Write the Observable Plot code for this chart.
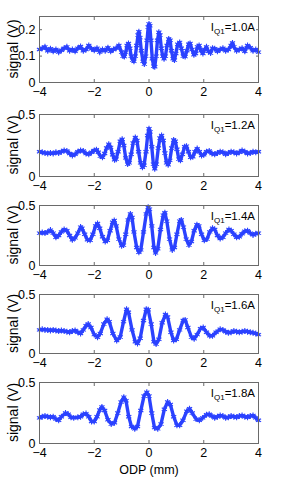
<!DOCTYPE html>
<html>
<head>
<meta charset="utf-8">
<script src="https://cdn.jsdelivr.net/npm/d3@7"></script>
<script src="https://cdn.jsdelivr.net/npm/@observablehq/plot@0.6"></script>
<style>
  html, body { margin: 0; padding: 0; background: #fff; }
  #wrap { position: relative; width: 284px; height: 481px; overflow: hidden; font-family: "Liberation Sans", Arial, sans-serif; }
  #wrap svg { position: absolute; left: 0; background: transparent; }
</style>
</head>
<body>
<div id="wrap"></div>
<script>
// ---- data (ODP in mm, signal in V) ----
const currents = ["1.0", "1.2", "1.4", "1.6", "1.8"];
const xTicks = [-4, -2, 0, 2, 4];
const yTicksSmall = [0, 0.1, 0.2];
const yTicksLarge = [0, 0.5];

const scan10 = [[-4.0,0.125],[-3.9,0.13],[-3.8,0.135],[-3.7,0.12],[-3.6,0.128],[-3.5,0.118],[-3.4,0.125],[-3.3,0.115],[-3.2,0.122],[-3.1,0.13],[-3.0,0.135],[-2.9,0.12],[-2.8,0.125],[-2.7,0.118],[-2.6,0.13],[-2.5,0.136],[-2.4,0.12],[-2.3,0.125],[-2.2,0.14],[-2.1,0.128],[-2.0,0.122],[-1.9,0.13],[-1.8,0.115],[-1.7,0.125],[-1.6,0.12],[-1.5,0.132],[-1.4,0.118],[-1.3,0.125],[-1.2,0.13],[-1.1,0.14],[-1.0,0.115],[-0.95,0.1],[-0.9,0.098],[-0.85,0.115],[-0.8,0.14],[-0.75,0.148],[-0.7,0.13],[-0.65,0.1],[-0.6,0.085],[-0.55,0.08],[-0.5,0.1],[-0.45,0.14],[-0.4,0.18],[-0.37,0.192],[-0.33,0.17],[-0.28,0.12],[-0.22,0.08],[-0.17,0.07],[-0.12,0.1],[-0.07,0.16],[-0.03,0.21],[0,0.222],[0.03,0.215],[0.07,0.16],[0.12,0.09],[0.17,0.062],[0.21,0.06],[0.26,0.1],[0.31,0.16],[0.36,0.19],[0.4,0.18],[0.45,0.13],[0.5,0.1],[0.55,0.09],[0.6,0.1],[0.66,0.14],[0.72,0.165],[0.77,0.16],[0.82,0.12],[0.88,0.09],[0.93,0.085],[0.98,0.11],[1.05,0.145],[1.12,0.152],[1.18,0.13],[1.25,0.1],[1.32,0.098],[1.38,0.12],[1.45,0.145],[1.5,0.148],[1.57,0.125],[1.64,0.105],[1.7,0.11],[1.77,0.135],[1.83,0.14],[1.9,0.12],[1.97,0.11],[2.03,0.125],[2.1,0.135],[2.17,0.118],[2.25,0.112],[2.32,0.13],[2.4,0.128],[2.5,0.118],[2.6,0.125],[2.7,0.13],[2.8,0.12],[2.9,0.125],[3.0,0.14],[3.05,0.15],[3.1,0.135],[3.2,0.12],[3.3,0.125],[3.4,0.13],[3.5,0.118],[3.6,0.14],[3.7,0.132],[3.8,0.12],[3.9,0.125],[4.0,0.115]];

const scan12 = [[-4.0,0.2],[-3.9,0.195],[-3.8,0.19],[-3.7,0.185],[-3.6,0.19],[-3.5,0.185],[-3.4,0.195],[-3.3,0.19],[-3.2,0.2],[-3.1,0.21],[-3.0,0.205],[-2.9,0.185],[-2.8,0.17],[-2.7,0.18],[-2.6,0.2],[-2.5,0.21],[-2.4,0.205],[-2.3,0.185],[-2.2,0.18],[-2.1,0.195],[-2.0,0.21],[-1.92,0.215],[-1.85,0.195],[-1.78,0.165],[-1.7,0.155],[-1.62,0.185],[-1.55,0.23],[-1.47,0.26],[-1.4,0.235],[-1.33,0.175],[-1.26,0.135],[-1.2,0.14],[-1.13,0.2],[-1.05,0.285],[-0.98,0.3],[-0.92,0.25],[-0.85,0.15],[-0.78,0.1],[-0.72,0.11],[-0.65,0.18],[-0.58,0.27],[-0.5,0.315],[-0.44,0.29],[-0.38,0.2],[-0.31,0.11],[-0.24,0.075],[-0.18,0.09],[-0.11,0.2],[-0.05,0.33],[0,0.385],[0.04,0.36],[0.1,0.24],[0.16,0.1],[0.21,0.062],[0.27,0.1],[0.34,0.23],[0.4,0.31],[0.46,0.33],[0.52,0.29],[0.58,0.19],[0.64,0.11],[0.7,0.095],[0.76,0.13],[0.83,0.23],[0.9,0.295],[0.96,0.285],[1.02,0.22],[1.09,0.14],[1.15,0.13],[1.22,0.18],[1.3,0.24],[1.37,0.245],[1.44,0.2],[1.52,0.155],[1.6,0.16],[1.68,0.2],[1.76,0.225],[1.84,0.2],[1.92,0.17],[2.0,0.175],[2.1,0.2],[2.2,0.205],[2.3,0.185],[2.4,0.18],[2.5,0.19],[2.6,0.2],[2.7,0.195],[2.8,0.18],[2.9,0.19],[3.0,0.2],[3.1,0.195],[3.2,0.185],[3.3,0.195],[3.4,0.21],[3.5,0.2],[3.6,0.185],[3.7,0.19],[3.8,0.2],[3.9,0.195],[4.0,0.2]];

const scan14 = [[-4.0,0.27],[-3.9,0.275],[-3.8,0.27],[-3.7,0.28],[-3.6,0.295],[-3.5,0.27],[-3.4,0.235],[-3.3,0.25],[-3.2,0.28],[-3.1,0.3],[-3.0,0.29],[-2.9,0.25],[-2.8,0.215],[-2.7,0.23],[-2.6,0.27],[-2.5,0.32],[-2.45,0.31],[-2.35,0.26],[-2.25,0.215],[-2.15,0.21],[-2.05,0.26],[-1.95,0.33],[-1.88,0.35],[-1.8,0.31],[-1.7,0.24],[-1.6,0.2],[-1.52,0.21],[-1.42,0.29],[-1.33,0.36],[-1.27,0.375],[-1.2,0.33],[-1.1,0.22],[-1.0,0.165],[-0.93,0.17],[-0.85,0.26],[-0.76,0.38],[-0.68,0.43],[-0.62,0.4],[-0.55,0.28],[-0.45,0.15],[-0.37,0.11],[-0.3,0.13],[-0.2,0.28],[-0.1,0.43],[-0.03,0.485],[0.02,0.47],[0.1,0.33],[0.18,0.15],[0.24,0.105],[0.32,0.14],[0.42,0.3],[0.52,0.42],[0.58,0.44],[0.65,0.37],[0.75,0.22],[0.85,0.13],[0.93,0.15],[1.02,0.26],[1.12,0.37],[1.18,0.38],[1.26,0.32],[1.36,0.22],[1.46,0.17],[1.55,0.2],[1.65,0.29],[1.75,0.34],[1.82,0.33],[1.92,0.26],[2.02,0.21],[2.12,0.22],[2.22,0.28],[2.32,0.31],[2.4,0.3],[2.5,0.25],[2.6,0.225],[2.7,0.235],[2.8,0.27],[2.92,0.3],[3.0,0.29],[3.1,0.26],[3.2,0.235],[3.3,0.24],[3.4,0.265],[3.5,0.285],[3.6,0.29],[3.7,0.27],[3.8,0.255],[3.9,0.265],[4.0,0.27]];

const scan16 = [[-4.0,0.2],[-3.9,0.205],[-3.8,0.2],[-3.7,0.2],[-3.6,0.195],[-3.5,0.2],[-3.4,0.195],[-3.3,0.19],[-3.2,0.195],[-3.1,0.19],[-3.0,0.185],[-2.9,0.18],[-2.8,0.19],[-2.7,0.195],[-2.6,0.18],[-2.5,0.17],[-2.4,0.2],[-2.3,0.235],[-2.22,0.25],[-2.12,0.22],[-2.0,0.16],[-1.88,0.138],[-1.78,0.17],[-1.65,0.25],[-1.53,0.29],[-1.45,0.27],[-1.32,0.17],[-1.18,0.11],[-1.05,0.14],[-0.93,0.27],[-0.82,0.375],[-0.75,0.35],[-0.62,0.2],[-0.5,0.1],[-0.42,0.085],[-0.32,0.13],[-0.2,0.28],[-0.1,0.375],[-0.03,0.37],[0.08,0.25],[0.18,0.1],[0.26,0.08],[0.36,0.12],[0.48,0.26],[0.6,0.33],[0.68,0.31],[0.8,0.18],[0.9,0.11],[1.0,0.12],[1.12,0.2],[1.25,0.28],[1.32,0.285],[1.42,0.22],[1.55,0.14],[1.65,0.125],[1.76,0.16],[1.88,0.21],[1.98,0.22],[2.1,0.18],[2.22,0.15],[2.32,0.15],[2.45,0.18],[2.6,0.205],[2.7,0.2],[2.8,0.185],[2.9,0.175],[3.0,0.18],[3.1,0.19],[3.2,0.185],[3.3,0.18],[3.4,0.185],[3.5,0.19],[3.6,0.185],[3.7,0.18],[3.8,0.175],[3.9,0.17],[4.0,0.16]];

const scan18 = [[-4.0,0.21],[-3.9,0.22],[-3.8,0.225],[-3.7,0.22],[-3.6,0.215],[-3.5,0.22],[-3.4,0.2],[-3.3,0.19],[-3.2,0.22],[-3.05,0.25],[-2.95,0.24],[-2.85,0.215],[-2.75,0.21],[-2.6,0.215],[-2.5,0.22],[-2.4,0.24],[-2.3,0.245],[-2.2,0.22],[-2.1,0.18],[-2.0,0.18],[-1.9,0.22],[-1.8,0.275],[-1.72,0.3],[-1.62,0.27],[-1.5,0.195],[-1.38,0.16],[-1.26,0.17],[-1.14,0.25],[-1.02,0.34],[-0.92,0.38],[-0.84,0.35],[-0.74,0.22],[-0.64,0.14],[-0.52,0.12],[-0.42,0.14],[-0.3,0.27],[-0.18,0.39],[-0.08,0.42],[0.0,0.39],[0.1,0.25],[0.2,0.13],[0.32,0.12],[0.44,0.16],[0.56,0.28],[0.68,0.34],[0.78,0.32],[0.9,0.22],[1.02,0.15],[1.12,0.15],[1.24,0.19],[1.38,0.265],[1.48,0.285],[1.58,0.25],[1.72,0.2],[1.84,0.19],[1.96,0.21],[2.1,0.235],[2.2,0.24],[2.3,0.225],[2.4,0.21],[2.5,0.22],[2.6,0.23],[2.7,0.225],[2.8,0.21],[2.9,0.215],[3.0,0.225],[3.1,0.22],[3.2,0.215],[3.3,0.225],[3.4,0.23],[3.5,0.22],[3.6,0.215],[3.7,0.225],[3.8,0.23],[3.9,0.21],[4.0,0.19]];

const scans = [scan10, scan12, scan14, scan16, scan18];

// ---- layout (svg top, height, margins) ----
const panels = [
  {top: 0,   height: 100, mt: 16, mb: 18, ymax: 0.25, yticks: yTicksSmall},
  {top: 100, height: 92,  mt: 14, mb: 16, ymax: 0.5,  yticks: yTicksLarge},
  {top: 192, height: 90,  mt: 13, mb: 17, ymax: 0.5,  yticks: yTicksLarge},
  {top: 282, height: 88,  mt: 12, mb: 17, ymax: 0.5,  yticks: yTicksLarge},
  {top: 370, height: 111, mt: 12, mb: 38, ymax: 0.5,  yticks: yTicksLarge}
];

const blue = "#2b42ff";
const frameColor = "#6a6a6a";
const fontFam = "'Liberation Sans', Arial, sans-serif";
const fmt = d => d === 0 ? "0" : (d < 0 ? "\u2212" + Math.abs(d) : String(d));
const wrap = document.getElementById("wrap");

panels.forEach((p, i) => {
  const data = scans[i].map(([x, y]) => ({x, y}));
  const last = i === panels.length - 1;
  const plot = Plot.plot({
    width: 284,
    height: p.height,
    marginLeft: 39,
    marginRight: 26,
    marginTop: p.mt,
    marginBottom: p.mb,
    style: {background: "transparent", fontFamily: fontFam, fontSize: "12px", color: "#000"},
    x: {domain: [-4, 4]},
    y: {domain: [0, p.ymax]},
    marks: [
      Plot.line(data, {x: "x", y: "y", stroke: blue, strokeWidth: 3.4, strokeLinejoin: "round"}),
      Plot.dot(data, {x: "x", y: "y", symbol: "asterisk", r: 2.8, stroke: blue, strokeWidth: 1.1}),
      Plot.frame({stroke: frameColor, strokeWidth: 1}),
      Plot.axisX(xTicks, {anchor: "bottom", tickSize: -3, tickPadding: 8, tickFormat: fmt, stroke: frameColor, fill: "#000", fontSize: 12.5,
        label: last ? "ODP (mm)" : null, labelAnchor: "center", labelArrow: "none", labelOffset: 30}),
      Plot.axisX(xTicks, {anchor: "top", tickSize: -3, tickFormat: () => "", stroke: frameColor, label: null}),
      Plot.axisY(p.yticks, {anchor: "left", tickSize: -3, tickPadding: 7, tickFormat: fmt, stroke: frameColor, fill: "#000", fontSize: 12.5, label: null}),
      Plot.axisY(p.yticks, {anchor: "right", tickSize: -3, tickFormat: () => "", stroke: frameColor, label: null})
    ]
  });
  plot.style.top = p.top + "px";
  wrap.appendChild(plot);

  const sx = plot.scale("x"), sy = plot.scale("y");
  const svg = d3.select(plot);

  // y-axis title, centred on the panel's own y range
  const cy = (sy.apply(0) + sy.apply(p.ymax)) / 2;
  svg.append("text")
    .attr("transform", `translate(13,${cy}) rotate(-90)`)
    .attr("text-anchor", "middle")
    .attr("dy", "0.35em")
    .attr("fill", "#000")
    .style("font-family", fontFam)
    .style("font-size", "14px")
    .text("signal (V)");

  // current annotation with subscript
  const t = svg.append("text")
    .attr("x", sx.apply(4) - 3)
    .attr("y", sy.apply(p.ymax) + 15)
    .attr("text-anchor", "end")
    .attr("fill", "#000")
    .style("font-family", fontFam)
    .style("font-size", "11.5px");
  t.append("tspan").text("I");
  t.append("tspan").attr("dy", 3).style("font-size", "8px").text("Q1");
  t.append("tspan").attr("dy", -3).text("=" + currents[i] + "A");
});
</script>
</body>
</html>
